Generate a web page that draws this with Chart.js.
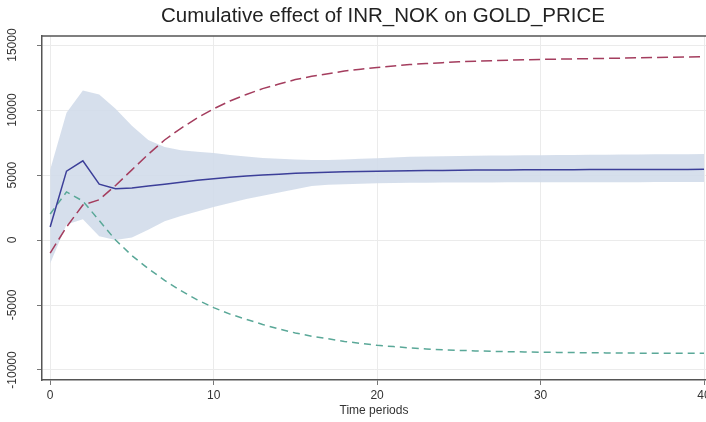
<!DOCTYPE html>
<html>
<head>
<meta charset="utf-8">
<script src="https://cdn.jsdelivr.net/npm/chart.js@4.4.1/dist/chart.umd.min.js"></script>
<style>
  html, body { margin: 0; padding: 0; background: #fff; }
  #wrap { width: 706px; height: 422px; }
</style>
</head>
<body>
<div id="wrap"><canvas id="grafica"></canvas></div>
<script>
// --- datos ---
const periodos = Array.from({ length: 41 }, (_, i) => i);
const efecto = [1000, 5300, 6100, 4300, 3950, 4000, 4150, 4300, 4450, 4600, 4720, 4830, 4920, 5000, 5070, 5130, 5180, 5220, 5250, 5280, 5300, 5320, 5335, 5350, 5360, 5370, 5380, 5388, 5395, 5400, 5405, 5410, 5414, 5418, 5421, 5424, 5427, 5430, 5433, 5436, 5440];
const bandaSup = [5400, 9800, 11500, 11200, 10100, 8800, 7700, 7150, 6900, 6800, 6700, 6550, 6420, 6320, 6250, 6200, 6160, 6160, 6200, 6250, 6300, 6350, 6400, 6420, 6450, 6470, 6490, 6500, 6510, 6520, 6530, 6540, 6550, 6560, 6570, 6580, 6590, 6600, 6600, 6610, 6620];
const bandaInf = [-1800, 1200, 1600, 300, 0, 200, 800, 1450, 1850, 2200, 2550, 2850, 3150, 3400, 3650, 3900, 4150, 4250, 4300, 4340, 4370, 4390, 4400, 4410, 4420, 4425, 4430, 4435, 4440, 4442, 4444, 4446, 4448, 4450, 4452, 4454, 4456, 4458, 4460, 4462, 4464];
const rojo = [-1000, 1000, 2700, 3100, 4200, 5400, 6600, 7700, 8600, 9400, 10100, 10700, 11200, 11650, 12000, 12350, 12600, 12800, 13000, 13150, 13280, 13400, 13500, 13580, 13650, 13710, 13760, 13800, 13840, 13870, 13900, 13920, 13940, 13960, 13980, 14000, 14020, 14040, 14060, 14080, 14100];
const verde = [2000, 3700, 3000, 1500, 0, -1200, -2200, -3100, -3900, -4600, -5200, -5700, -6100, -6500, -6850, -7150, -7400, -7600, -7800, -7950, -8100, -8200, -8300, -8380, -8440, -8490, -8530, -8560, -8590, -8610, -8630, -8645, -8660, -8672, -8684, -8694, -8702, -8708, -8714, -8718, -8720];
const ticksX = [0, 10, 20, 30, 40];
const ticksY = [-10000, -5000, 0, 5000, 10000, 15000];
const TITULO = 'Cumulative effect of INR_NOK on GOLD_PRICE';

const FUENTE = "'Liberation Sans', Arial, sans-serif";
const aPuntos = (serie) => serie.map((v, i) => ({ x: periodos[i], y: v }));

// titulo, etiquetas del eje Y giradas y borde superior
const extras = {
    id: 'extras',
    afterDraw(chart) {
        const ctx = chart.ctx; const a = chart.chartArea; const ey = chart.scales.y;
        ctx.save();
        ctx.strokeStyle = '#555'; ctx.lineWidth = 1.5;
        ctx.beginPath(); ctx.moveTo(a.left, a.top); ctx.lineTo(a.right, a.top); ctx.stroke();
        ctx.fillStyle = '#222'; ctx.font = `20.5px ${FUENTE}`; ctx.textAlign = 'center'; ctx.textBaseline = 'middle';
        ctx.fillText(TITULO, 383, 16);
        ctx.fillStyle = '#333'; ctx.font = `12px ${FUENTE}`;
        ticksY.forEach(v => {
            const y = ey.getPixelForValue(v);
            ctx.save(); ctx.translate(13, y); ctx.rotate(-Math.PI / 2); ctx.fillText(String(v), 0, 0); ctx.restore();
        });
        ctx.restore();
    }
};

new Chart(document.getElementById('grafica'), {
    type: 'line',
    data: {
        datasets: [
            { data: aPuntos(efecto), borderColor: '#3c3f99', borderWidth: 1.5, pointRadius: 0, fill: false, order: 1 },
            { data: aPuntos(rojo), borderColor: '#a43d5e', borderWidth: 1.5, borderDash: [11, 5], pointRadius: 0, fill: false, order: 2 },
            { data: aPuntos(verde), borderColor: '#5aa898', borderWidth: 1.5, borderDash: [7, 5], pointRadius: 0, fill: false, order: 3 },
            { data: aPuntos(bandaSup), borderWidth: 0, borderColor: 'rgba(0,0,0,0)', pointRadius: 0, fill: '+1', backgroundColor: 'rgba(210,219,234,0.9)', order: 10 },
            { data: aPuntos(bandaInf), borderWidth: 0, borderColor: 'rgba(0,0,0,0)', pointRadius: 0, fill: false, order: 11 }
        ]
    },
    options: {
        responsive: true, maintainAspectRatio: false, animation: false,
        layout: { padding: { top: 36, left: 0, right: 0, bottom: 0 } },
        plugins: { legend: { display: false }, tooltip: { enabled: false }, title: { display: false } },
        scales: {
            x: {
                type: 'linear', min: -0.5, max: 40.12,
                afterBuildTicks: (s) => { s.ticks = ticksX.map(v => ({ value: v })); },
                afterFit: (s) => { s.height = 42; s.paddingLeft = 0; s.paddingRight = 0; },
                grid: { color: '#ebebeb', tickColor: '#777', tickLength: 5 },
                border: { color: '#555', width: 1.5 },
                ticks: { color: '#333', padding: 3, maxRotation: 0, font: { family: FUENTE, size: 12 } },
                title: { display: true, text: 'Time periods', color: '#333', padding: { top: 0, bottom: 4 }, font: { family: FUENTE, size: 12 } }
            },
            y: {
                min: -10770, max: 15700,
                afterBuildTicks: (s) => { s.ticks = ticksY.map(v => ({ value: v })); },
                afterFit: (s) => { s.width = 42; s.paddingTop = 0; s.paddingBottom = 0; },
                grid: { color: '#ebebeb', tickColor: '#777', tickLength: 5 },
                border: { color: '#555', width: 1.5 },
                ticks: { display: false }
            }
        }
    },
    plugins: [extras]
});
</script>
</body>
</html>
